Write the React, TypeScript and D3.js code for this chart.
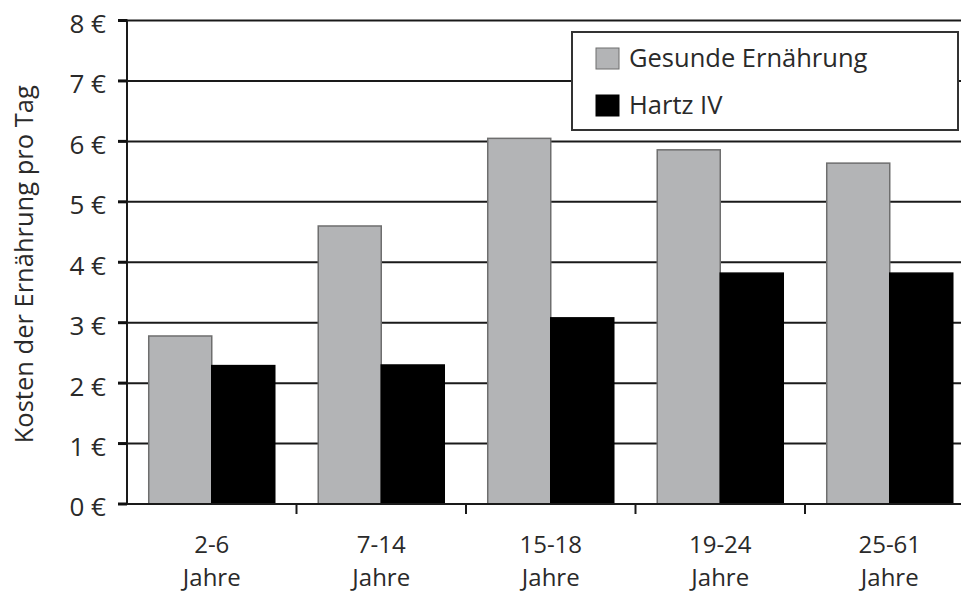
import React from "react"
import * as d3 from "d3"

const categories = ["2-6", "7-14", "15-18", "19-24", "25-61"]
const series = ["Gesunde Ernährung", "Hartz IV"]
const gesund = [2.78, 4.6, 6.05, 5.86, 5.64]
const hartz = [2.29, 2.3, 3.08, 3.82, 3.82]
const yTicks = [0, 1, 2, 3, 4, 5, 6, 7, 8]
const yTitle = "Kosten der Ernährung pro Tag"
const unitLabel = "Jahre"

const W = 961
const H = 593
const margin = {left: 127, top: 20.5, bottom: 89}
const step = 169.5
const colors = ["#b3b4b6", "#000000"]
const strokes = ["#6e6e6e", "#000000"]
const font = "'Open Sans', sans-serif"
const textColor = "#2a2a2a"

const App = () => {
    const x = d3.scaleBand<string>()
        .domain(categories)
        .range([margin.left, margin.left + step * categories.length])
        .padding(0)
    const xs = d3.scaleBand<string>()
        .domain(series)
        .range([0, x.bandwidth()])
        .paddingInner(0)
        .paddingOuter(0.345)
    const y = d3.scaleLinear()
        .domain([0, 8])
        .range([H - margin.bottom, margin.top])

    const values = [gesund, hartz]

    return (
        <svg width={W} height={H} style={{position: "absolute", left: 0, top: 0, background: "#fff"}}
             fontFamily={font}>
            {/* grid */}
            <g>
                {yTicks.map(t => (
                    <line key={t} x1={margin.left} x2={W} y1={y(t)} y2={y(t)}
                          stroke="#1a1a1a" strokeWidth={2}/>
                ))}
            </g>
            {/* bars */}
            {series.map((s, si) => (
                <g key={s}>
                    {categories.map((c, ci) => (
                        <rect key={c}
                              x={(x(c) as number) + (xs(s) as number)}
                              y={y(values[si][ci])}
                              width={xs.bandwidth()}
                              height={y(0) - y(values[si][ci])}
                              fill={colors[si]}
                              stroke={strokes[si]}
                              strokeWidth={1.5}/>
                    ))}
                </g>
            ))}
            {/* y axis */}
            <line x1={margin.left} x2={margin.left} y1={y(8) - 1} y2={y(0)} stroke="#1a1a1a" strokeWidth={2}/>
            {yTicks.map(t => (
                <g key={t}>
                    <line x1={margin.left - 9} x2={margin.left} y1={y(t)} y2={y(t)} stroke="#111" strokeWidth={3}/>
                    <text x={106} y={y(t)} dy="0.48em" textAnchor="end" fontSize={26} fill={textColor}>
                        {`${t} €`}
                    </text>
                </g>
            ))}
            {/* x axis */}
            <line x1={margin.left} x2={W} y1={y(0)} y2={y(0)} stroke="#1a1a1a" strokeWidth={2}/>
            {categories.map(c => (
                <g key={c}>
                    <line x1={(x(c) as number) + x.bandwidth()} x2={(x(c) as number) + x.bandwidth()}
                          y1={y(0)} y2={y(0) + 10} stroke="#1a1a1a" strokeWidth={2}/>
                    <text x={(x(c) as number) + x.bandwidth() / 2} y={553} textAnchor="middle"
                          fontSize={24} fill={textColor}>{c}</text>
                    <text x={(x(c) as number) + x.bandwidth() / 2} y={586} textAnchor="middle"
                          fontSize={24} fill={textColor}>{unitLabel}</text>
                </g>
            ))}
            {/* y title */}
            <text transform={`translate(33, ${(y(0) + y(8)) / 2 + 2}) rotate(-90)`} textAnchor="middle"
                  fontSize={25.5} fill={textColor}>{yTitle}</text>
            {/* legend */}
            <g>
                <rect x={572} y={32} width={386} height={98} fill="#fff" stroke="#333" strokeWidth={2}/>
                {series.map((s, i) => (
                    <g key={s} transform={`translate(596, ${48 + i * 47})`}>
                        <rect width={23} height={21} fill={colors[i]} stroke={strokes[i]} strokeWidth={1}/>
                        <text x={33} y={19} fontSize={25.5} fill={textColor}>{s}</text>
                    </g>
                ))}
            </g>
        </svg>
    )
}

export default App
